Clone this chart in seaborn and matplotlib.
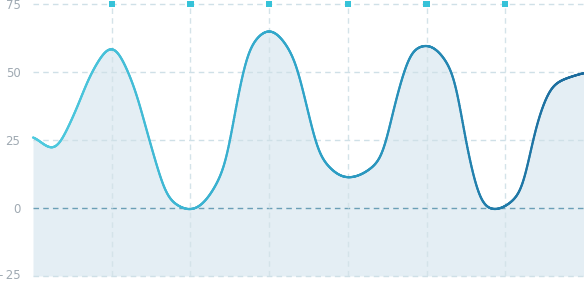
import numpy as np
import pandas as pd
import matplotlib
matplotlib.use("Agg")
import matplotlib.pyplot as plt
import matplotlib.transforms as mtransforms
import seaborn as sns
from matplotlib.collections import LineCollection
from matplotlib.colors import LinearSegmentedColormap

# ---- data (x in grid-interval units) ----
x_pos = [0.00, 0.26, 0.51, 0.75, 1.00, 1.27, 1.49, 1.74, 2.00,
         2.44, 2.57, 2.76, 3.00, 3.31, 3.48, 3.65, 4.00,
         4.41, 4.62, 4.83, 5.00, 5.34, 5.51, 5.72, 5.85,
         6.19, 6.40, 6.61, 7.00]
values = [26.5, 21.6, 33.6, 50.1, 59.3, 45.8, 23.8, 2.9, -0.7,
          15.2, 36.0, 59.3, 65.4, 55.6, 37.2, 18.9, 11.1,
          17.6, 40.9, 58.1, 59.9, 49.5, 22.5, 1.1, -0.7,
          5.4, 31.1, 45.2, 49.8]
marker_pos = [1, 2, 3, 4, 5, 6]
y_ticks = [-25, 0, 25, 50, 75]
y_tick_labels = ["-\u200925", "0", "25", "50", "75"]

# ---- monotone cubic (rendering of the smooth line) ----
def monotone_curve(x, y, n_out=1400):
    x = np.asarray(x, float); y = np.asarray(y, float)
    n = len(x)
    h = np.diff(x); d = np.diff(y) / h
    m = np.zeros(n)
    for i in range(1, n - 1):
        if d[i - 1] * d[i] <= 0:
            m[i] = 0.0
        else:
            w1 = 2 * h[i] + h[i - 1]; w2 = h[i] + 2 * h[i - 1]
            m[i] = (w1 + w2) / (w1 / d[i - 1] + w2 / d[i])
    m[0] = d[0]; m[-1] = d[-1]
    xs = np.linspace(x[0], x[-1], n_out)
    idx = np.clip(np.searchsorted(x, xs, side="right") - 1, 0, n - 2)
    t = (xs - x[idx]) / h[idx]
    h00 = 2 * t**3 - 3 * t**2 + 1
    h10 = t**3 - 2 * t**2 + t
    h01 = -2 * t**3 + 3 * t**2
    h11 = t**3 - t**2
    ys = h00 * y[idx] + h10 * h[idx] * m[idx] + h01 * y[idx + 1] + h11 * h[idx] * m[idx + 1]
    # light smoothing of the rendered path to soften joins
    k = np.exp(-0.5 * (np.arange(-40, 41) / 13.0) ** 2); k /= k.sum()
    pad = np.concatenate([np.full(40, ys[0]), ys, np.full(40, ys[-1])])
    ys = np.convolve(pad, k, mode="valid")
    return xs, ys

sns.set_theme(style="white")
fig = plt.figure(figsize=(5.84, 2.81), dpi=100)
ax = fig.add_axes([33 / 584, 5 / 281, 1 - 33 / 584, 272 / 281])

xs, ys = monotone_curve(x_pos, values)

ax.fill_between(xs, ys, -25, color="#e4eef4", lw=0, zorder=1)

grid_c = "#cfe0e7"
for yv in [25, 50, 75, -25]:
    ax.axhline(yv, color=grid_c, lw=1, ls=(0, (4, 3)), zorder=2, clip_on=False)
ax.axhline(0, color="#6b9fb6", lw=1, ls=(0, (4, 3)), zorder=2)
for xv in marker_pos:
    ax.axvline(xv, color="#d4e3e9", lw=1, ls=(0, (4, 3)), zorder=2)

pts = np.column_stack([xs, ys]).reshape(-1, 1, 2)
segs = np.concatenate([pts[:-1], pts[1:]], axis=1)
cmap = LinearSegmentedColormap.from_list("g", ["#4fcbdf", "#2ea3c8", "#1a6a9c"])
lc = LineCollection(segs, cmap=cmap, norm=plt.Normalize(0, 7), lw=1.6, zorder=4,
                    capstyle="round", joinstyle="round")
lc.set_array((xs[:-1] + xs[1:]) / 2)
ax.add_collection(lc)

mk = pd.DataFrame({"x": marker_pos, "y": [75] * len(marker_pos)})
sns.scatterplot(data=mk, x="x", y="y", marker="s", s=20, color="#36c2d8",
                edgecolor="none", linewidth=0, ax=ax, zorder=5)
for coll in ax.collections:
    coll.set_clip_on(False)

ax.set_xlim(0, 7)
ax.set_ylim(-25, 75)
ax.set_yticks(y_ticks)
ax.set_yticklabels(y_tick_labels)
ax.set_xticks([])
ax.set_xlabel(""); ax.set_ylabel("")
ax.tick_params(axis="y", length=0, pad=9, labelsize=8.5, labelcolor="#9fa9b2")
for s in ax.spines.values():
    s.set_visible(False)
# nudge the bottom label up slightly so it stays inside the canvas
lab = ax.get_yticklabels()[0]
lab.set_transform(lab.get_transform() + mtransforms.ScaledTranslation(0, 2 / 100, fig.dpi_scale_trans))

fig.savefig("out.png", dpi=100)
